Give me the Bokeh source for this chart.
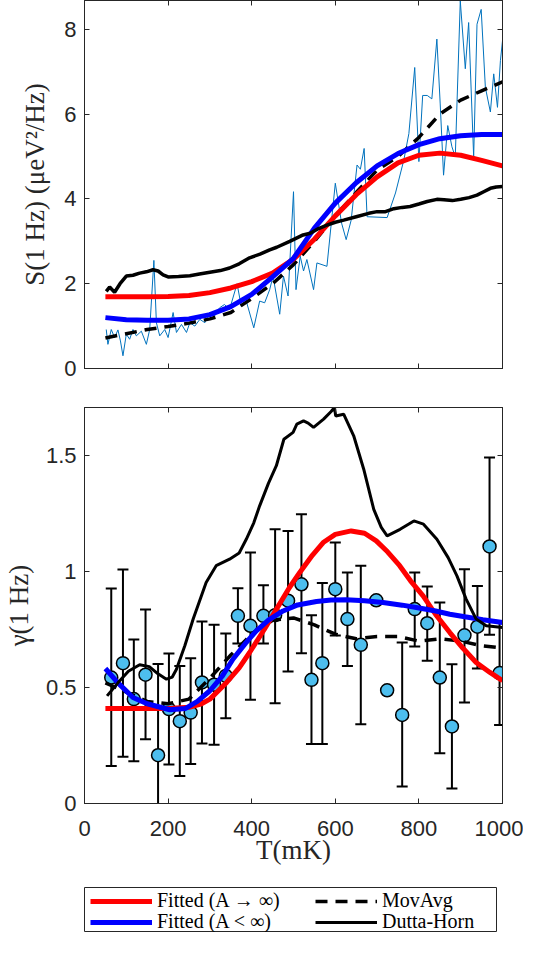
from bokeh.plotting import figure
from bokeh.models import (ColumnDataSource, Range1d, LinearAxis, Legend, LegendItem,
                          FixedTicker, CustomJSTickFormatter)
from bokeh.layouts import column
from bokeh.embed import file_html
from bokeh.resources import INLINE

# ---------------- data: top panel S(1 Hz) ----------------
raw_T = [52, 56, 64, 72, 80, 86, 92, 100, 108, 116, 124, 136, 148, 156, 166, 172, 180, 192, 200,
         212, 220, 232, 244, 252, 264, 276, 288, 299, 311, 323, 335, 347, 365, 375, 387, 405, 419,
         431, 443, 451, 467, 476, 487, 500, 506, 516, 524, 532, 548, 556, 580, 600, 615, 626, 638,
         652, 660, 669, 676, 724, 744, 764, 776, 790, 800, 809, 820, 831, 843, 851, 859, 869, 879,
         887, 899, 911, 919, 931, 939, 949, 959, 971, 979, 988, 995, 1000]
raw_S = [0.92, 0.57, 0.92, 0.73, 0.91, 0.65, 0.30, 0.81, 0.69, 0.92, 0.77, 0.88, 0.57, 0.92, 2.55,
         1.08, 0.77, 0.92, 0.73, 1.32, 0.85, 1.04, 0.85, 1.08, 1.00, 1.16, 1.08, 1.32, 1.24, 1.43,
         1.51, 1.39, 2.00, 1.47, 1.59, 0.96, 1.59, 1.55, 1.86, 2.18, 1.28, 2.18, 1.71, 4.17, 1.86,
         2.65, 2.30, 2.57, 1.86, 2.49, 2.41, 4.37, 3.43, 3.04, 3.50, 4.80, 4.70, 5.19, 3.58, 3.56,
         4.14, 4.92, 5.54, 7.10, 4.88, 6.44, 6.44, 6.36, 7.77, 6.24, 4.56, 5.73, 5.23, 4.99, 8.67,
         7.07, 8.16, 4.99, 8.12, 8.47, 6.63, 6.05, 6.95, 6.16, 7.26, 7.73]

fit_T = [50, 100, 150, 200, 250, 300, 350, 400, 450, 500, 550, 600, 650, 700, 750, 800, 850, 900, 950, 1000]
movavg_S = [0.72, 0.82, 0.92, 0.99, 1.07, 1.17, 1.32, 1.65, 2.00, 2.45, 3.00, 3.60, 4.15, 4.68, 5.00, 5.45, 6.00, 6.33, 6.55, 6.76]
red_S = [1.69, 1.69, 1.69, 1.70, 1.72, 1.79, 1.90, 2.05, 2.25, 2.58, 3.05, 3.60, 4.10, 4.52, 4.85, 5.03, 5.08, 5.03, 4.91, 4.78]
blue_S = [1.20, 1.15, 1.14, 1.14, 1.17, 1.27, 1.46, 1.75, 2.16, 2.60, 3.31, 3.90, 4.38, 4.78, 5.07, 5.28, 5.42, 5.49, 5.52, 5.52]

dh_top_T = [52, 60, 72, 85, 100, 116, 132, 148, 164, 176, 188, 200, 225, 252, 275, 300, 325, 347, 370,
            395, 420, 443, 460, 491, 523, 540, 560, 580, 600, 620, 650, 680, 700, 720, 740, 760, 779,
            800, 820, 843, 860, 880, 900, 920, 939, 955, 971, 985, 1000]
dh_top_S = [1.82, 1.92, 1.80, 2.00, 2.18, 2.20, 2.25, 2.28, 2.33, 2.30, 2.21, 2.16, 2.17, 2.19, 2.23,
            2.27, 2.31, 2.37, 2.47, 2.61, 2.70, 2.80, 2.86, 3.00, 3.15, 3.19, 3.30, 3.38, 3.45, 3.50,
            3.58, 3.66, 3.70, 3.70, 3.77, 3.80, 3.82, 3.88, 3.94, 3.99, 3.98, 3.96, 3.99, 4.03, 4.09,
            4.17, 4.25, 4.28, 4.29]

# ---------------- data: bottom panel gamma(1 Hz) ----------------
pts_T = [64, 92, 118, 146, 176, 202, 228, 254, 281, 310, 338, 367, 397, 428, 456, 487, 519, 543,
         569, 600, 629, 661, 698, 724, 760, 790, 820, 850, 879, 909, 940, 969, 993]
pts_g = [0.543, 0.605, 0.450, 0.555, 0.208, 0.407, 0.355, 0.392, 0.522, 0.512, 0.550, 0.809, 0.766,
         0.809, 0.812, 0.874, 0.945, 0.533, 0.605, 0.924, 0.795, 0.684, 0.876, 0.488, 0.382, 0.838,
         0.777, 0.543, 0.332, 0.725, 0.762, 1.108, 0.562]
pts_up = [0.927, 1.009, 0.707, 0.836, 0.601, 0.647, 0.593, 0.626, 0.784, 0.770, 0.733, 0.928, 1.082,
          0.941, 1.182, 1.175, 1.247, 0.812, 0.951, 1.125, 0.996, 1.025, 0.890, 0.498, 0.694, 0.996,
          0.935, 0.866, 0.600, 1.010, 0.938, 1.491, 0.786]
pts_lo = [0.162, 0.201, 0.182, 0.277, -0.185, 0.168, 0.119, 0.170, 0.259, 0.253, 0.368, 0.690, 0.447,
          0.690, 0.432, 0.569, 0.648, 0.256, 0.256, 0.724, 0.593, 0.342, 0.862, 0.478, 0.073, 0.677,
          0.615, 0.217, 0.065, 0.435, 0.582, 0.727, 0.338]

mov_g = [0.52, 0.48, 0.44, 0.43, 0.45, 0.54, 0.64, 0.73, 0.79, 0.80, 0.77, 0.73, 0.71, 0.72, 0.72, 0.70, 0.71, 0.70, 0.68, 0.67]

red_g_T = [50, 100, 150, 200, 250, 280, 300, 340, 370, 395, 430, 460, 490, 515, 545, 571, 600, 638,
           670, 698, 725, 754, 780, 810, 840, 874, 905, 937, 970, 1000]
red_g = [0.409, 0.409, 0.409, 0.410, 0.415, 0.430, 0.450, 0.522, 0.585, 0.651, 0.750, 0.840, 0.930,
         0.996, 1.070, 1.125, 1.160, 1.175, 1.165, 1.132, 1.085, 1.025, 0.960, 0.895, 0.815, 0.737,
         0.670, 0.608, 0.565, 0.529]

blue_g_T = [50, 80, 116, 150, 204, 242, 270, 300, 330, 355, 385, 411, 440, 475, 510, 555, 590, 626,
            670, 714, 760, 794, 840, 874, 910, 953, 1000]
blue_g = [0.582, 0.520, 0.457, 0.430, 0.404, 0.410, 0.440, 0.486, 0.550, 0.622, 0.690, 0.744, 0.790,
          0.830, 0.856, 0.871, 0.877, 0.878, 0.874, 0.866, 0.855, 0.845, 0.830, 0.816, 0.805, 0.792, 0.780]

dh_g_T = [54, 80, 105, 132, 155, 175, 196, 210, 220, 240, 260, 291, 315, 347, 370, 387, 405, 419, 440,
          459, 477, 499, 508, 524, 535, 548, 572, 590, 598, 601, 620, 644, 668, 692, 710, 724, 755,
          788, 811, 843, 870, 891, 913, 937, 961, 1000]
dh_g = [0.464, 0.520, 0.570, 0.598, 0.590, 0.560, 0.536, 0.545, 0.579, 0.680, 0.795, 0.953, 1.025,
        1.053, 1.080, 1.139, 1.210, 1.283, 1.380, 1.456, 1.570, 1.600, 1.635, 1.649, 1.640, 1.621,
        1.657, 1.690, 1.707, 1.670, 1.678, 1.585, 1.441, 1.268, 1.190, 1.154, 1.182, 1.218, 1.204,
        1.139, 1.060, 0.981, 0.881, 0.795, 0.766, 0.759]

x_ticks = [0, 200, 400, 600, 800, 1000]
top_y_ticks = [0, 2, 4, 6, 8]
bot_y_ticks = [0, 0.5, 1, 1.5]
legend_labels = ["Fitted (A → ∞)", "Fitted (A < ∞)", "MovAvg", "Dutta-Horn"]

# ---------------- styling ----------------
AX = "#262626"
SANS = "Liberation Sans"
SERIF = "Liberation Serif"
TICK_FS = "22px"
LAB_FS = "27px"


def blank_axis(ax):
    ax.formatter = CustomJSTickFormatter(code="return ''")
    ax.major_label_text_font_size = "1px"
    ax.major_label_standoff = 0


def style_axis(ax, ticks):
    ax.ticker = FixedTicker(ticks=ticks)
    ax.major_tick_in = 5
    ax.major_tick_out = 0
    ax.minor_tick_line_color = None
    ax.axis_line_color = AX
    ax.major_tick_line_color = AX
    ax.major_label_text_font = SANS
    ax.major_label_text_font_size = TICK_FS
    ax.major_label_text_color = AX
    ax.axis_label_text_font = SERIF
    ax.axis_label_text_font_size = LAB_FS
    ax.axis_label_text_font_style = "normal"
    ax.axis_label_text_color = AX


def make_fig(frame_h, ymax, yticks, ylabel, min_top, min_bottom):
    p = figure(frame_width=418, frame_height=frame_h, x_range=Range1d(0, 1000),
               y_range=Range1d(0, ymax), output_backend="svg", toolbar_location=None,
               min_border_left=80, min_border_right=21, min_border_top=min_top,
               min_border_bottom=min_bottom)
    p.xgrid.visible = False
    p.ygrid.visible = False
    p.outline_line_color = AX
    p.background_fill_color = "white"
    bottom = p.below[0]
    left = p.left[0]
    style_axis(bottom, x_ticks)
    style_axis(left, yticks)
    left.axis_label = ylabel
    left.major_label_standoff = 8
    top = LinearAxis()
    style_axis(top, x_ticks)
    blank_axis(top)
    p.add_layout(top, "above")
    right = LinearAxis()
    style_axis(right, yticks)
    blank_axis(right)
    p.add_layout(right, "right")
    return p, bottom, left


# ---------------- top panel ----------------
p1, p1_bottom, p1_left = make_fig(368, 8.68, top_y_ticks, "S(1 Hz) (μeV²/Hz)", 0, 18)
blank_axis(p1_bottom)
p1_left.axis_label_standoff = 11

p1.line(raw_T, raw_S, line_color="#0072BD", line_width=1)
p1.line(fit_T, movavg_S, line_color="black", line_width=3.5, line_dash="12 8")
p1.line(fit_T, red_S, line_color="#FF0000", line_width=5)
p1.line(fit_T, blue_S, line_color="#0000FF", line_width=5)
p1.line(dh_top_T, dh_top_S, line_color="black", line_width=3.5)

# ---------------- bottom panel ----------------
p2, p2_bottom, p2_left = make_fig(396, 1.707, bot_y_ticks, "γ(1 Hz)", 21, 84)
p2_left.major_label_overrides = {0: "0", 0.5: "0.5", 1: "1", 1.5: "1.5"}
p2_left.axis_label_standoff = 9
p2_bottom.axis_label = "T(mK)"
p2_bottom.major_label_standoff = 17
p2_bottom.axis_label_standoff = -4

src = ColumnDataSource(dict(x=pts_T, y=pts_g, up=pts_up, lo=pts_lo))
p2.segment(x0="x", y0="lo", x1="x", y1="up", source=src, line_color="black", line_width=2)
p2.scatter("x", "up", source=src, marker="dash", size=11, line_color="black", line_width=2)
p2.scatter("x", "lo", source=src, marker="dash", size=11, line_color="black", line_width=2)
p2.scatter("x", "y", source=src, marker="circle", size=13, fill_color="#4DBEEE",
           line_color="black", line_width=1.5)

p2.line(fit_T, mov_g, line_color="black", line_width=3.5, line_dash="12 8")
p2.line(red_g_T, red_g, line_color="#FF0000", line_width=5)
p2.line(blue_g_T, blue_g, line_color="#0000FF", line_width=5)
p2.line(dh_g_T, dh_g, line_color="black", line_width=3)

# ---------------- legend strip: the frame outline is the legend box ----------------
p3 = figure(frame_width=412, frame_height=45, x_range=Range1d(-3000, -2000),
            y_range=Range1d(-3000, -2000), output_backend="svg", toolbar_location=None,
            min_border_left=83, min_border_right=24, min_border_top=0, min_border_bottom=0,
            x_axis_location=None, y_axis_location=None)
p3.xgrid.visible = False
p3.ygrid.visible = False
p3.outline_line_color = AX
p3.outline_line_width = 1
# proxy renderers: real series, but outside this strip's ranges (only their legend glyphs show)
g_red = p3.line(red_g_T, red_g, line_color="#FF0000", line_width=5)
g_blue = p3.line(blue_g_T, blue_g, line_color="#0000FF", line_width=5)
g_mov = p3.line(fit_T, mov_g, line_color="black", line_width=3.5, line_dash="12 8")
g_dh = p3.line(dh_g_T, dh_g, line_color="black", line_width=3)


def legend_row(items, y):
    return Legend(items=items, location=(6, y), orientation="horizontal",
                  label_text_font=SERIF, label_text_font_size="20px", label_text_color="black",
                  glyph_width=62, glyph_height=18, label_height=18, label_width=158,
                  label_standoff=5, padding=0, spacing=0, margin=0,
                  border_line_color=None, background_fill_alpha=0)


row1 = legend_row([LegendItem(label=legend_labels[0], renderers=[g_red]),
                   LegendItem(label=legend_labels[2], renderers=[g_mov])], 20)
row2 = legend_row([LegendItem(label=legend_labels[1], renderers=[g_blue]),
                   LegendItem(label=legend_labels[3], renderers=[g_dh])], -1)
p3.add_layout(row1, "center")
p3.add_layout(row2, "center")

layout = column(p1, p2, p3, spacing=0)
open("out.html", "w").write(file_html(layout, INLINE))
